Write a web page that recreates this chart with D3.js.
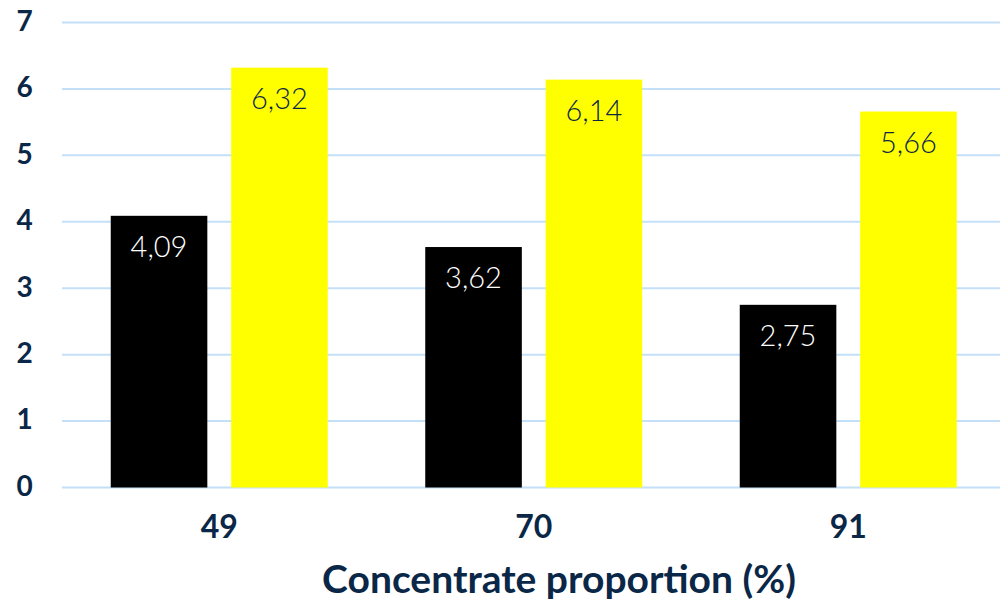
<!DOCTYPE html>
<html>
<head>
<meta charset="utf-8">
<script src="https://cdn.jsdelivr.net/npm/d3@7"></script>
<style>
  html, body { margin: 0; padding: 0; background: #ffffff; }
  svg { display: block; }
</style>
</head>
<body>
<svg id="chart" width="1000" height="601"></svg>
<script>
// Concentrate proportion categories (x axis)
const categories = ["49", "70", "91"];
// Two series per category
const seriesNames = ["black", "yellow"];
const seriesBlack = [4.09, 3.62, 2.75];
const seriesYellow = [6.32, 6.14, 5.66];
const yTicks = [0, 1, 2, 3, 4, 5, 6, 7];
const xTitle = "Concentrate proportion (%)";

const navy = "#0b2747";
const colors = { black: "#000000", yellow: "#ffff00" };
const labelColors = { black: "#ffffff", yellow: navy };

const svg = d3.select("#chart");
const font = "Lato, 'Open Sans', sans-serif";

const y = d3.scaleLinear().domain([0, 7]).range([487.5, 22.5]);
const x0 = d3.scaleBand().domain(categories).range([62, 1005.5])
  .paddingInner(0.31).paddingOuter(0.155);
const x1 = d3.scaleBand().domain(seriesNames).range([0, x0.bandwidth()])
  .paddingInner(0.198).paddingOuter(0);

// Horizontal gridlines
svg.append("g").selectAll("line").data(yTicks).join("line")
  .attr("x1", 62).attr("x2", 1000)
  .attr("y1", d => y(d)).attr("y2", d => y(d))
  .attr("stroke", "#c4e0f8").attr("stroke-width", 2);

// Y tick labels
svg.append("g").selectAll("text").data(yTicks).join("text")
  .attr("x", 24.5).attr("y", d => y(d))
  .attr("dy", "0.3em")
  .attr("text-anchor", "middle")
  .attr("font-family", font).attr("font-weight", 700)
  .attr("font-size", 28).attr("fill", navy)
  .text(d => d);

// Grouped bars
const rows = categories.map((c, i) => ({
  cat: c,
  values: [
    { key: "black", value: seriesBlack[i] },
    { key: "yellow", value: seriesYellow[i] }
  ]
}));

const groups = svg.append("g").selectAll("g").data(rows).join("g")
  .attr("transform", d => `translate(${x0(d.cat)},0)`);

groups.selectAll("rect").data(d => d.values).join("rect")
  .attr("x", d => x1(d.key))
  .attr("y", d => y(d.value))
  .attr("width", x1.bandwidth())
  .attr("height", d => y(0) - y(d.value))
  .attr("fill", d => colors[d.key]);

// Value labels inside the bars
const fmt = v => v.toFixed(2).replace(".", ",");
groups.selectAll("text").data(d => d.values).join("text")
  .attr("x", d => x1(d.key) + x1.bandwidth() / 2)
  .attr("y", d => y(d.value) + 41)
  .attr("text-anchor", "middle")
  .attr("font-family", font).attr("font-weight", 300)
  .attr("font-size", 29)
  .attr("fill", d => labelColors[d.key])
  .text(d => fmt(d.value));

// X tick labels
svg.append("g").selectAll("text").data(categories).join("text")
  .attr("x", d => x0(d) + x0.bandwidth() / 2)
  .attr("y", 538)
  .attr("text-anchor", "middle")
  .attr("font-family", font).attr("font-weight", 700)
  .attr("font-size", 32).attr("fill", navy)
  .text(d => d);

// X axis title
svg.append("text")
  .attr("x", 559).attr("y", 593)
  .attr("text-anchor", "middle")
  .attr("font-family", font).attr("font-weight", 700)
  .attr("font-size", 39).attr("fill", navy)
  .text(xTitle);
</script>
</body>
</html>
